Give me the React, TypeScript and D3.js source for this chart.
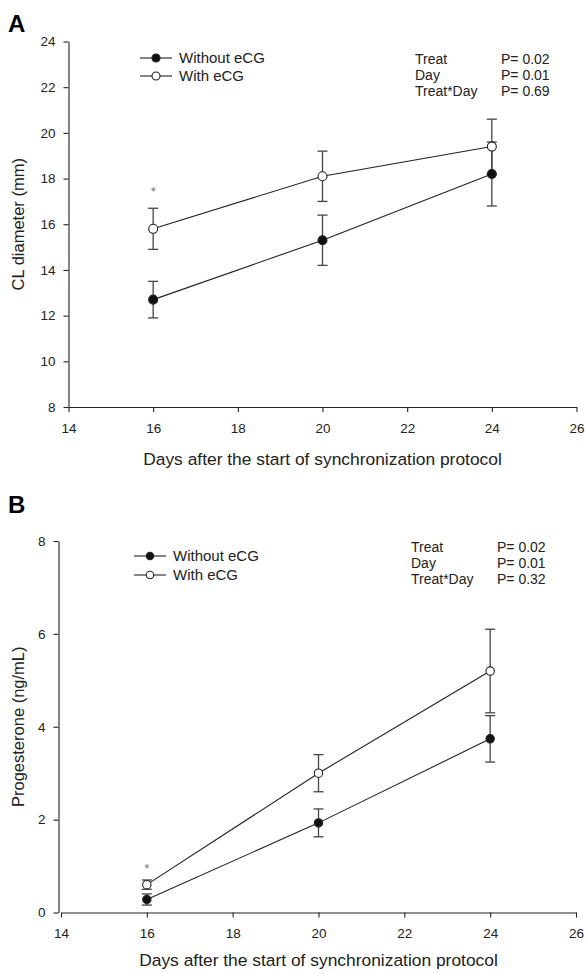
import { useEffect, useRef } from 'react';
import * as d3 from 'd3';

const days = [16, 20, 24];
const xTicks = [14, 16, 18, 20, 22, 24, 26];
const seriesNames = ['Without eCG', 'With eCG'];
const statLabels = ['Treat', 'Day', 'Treat*Day'];

// panel A - CL diameter (mm)
const clWithout = [12.7, 15.3, 18.2];
const clWithoutSe = [0.8, 1.1, 1.4];
const clWith = [15.8, 18.1, 19.4];
const clWithSe = [0.9, 1.1, 1.2];
const clTicks = [8, 10, 12, 14, 16, 18, 20, 22, 24];
const clStats = ['P= 0.02', 'P= 0.01', 'P= 0.69'];

// panel B - progesterone (ng/mL)
const p4Without = [0.28, 1.93, 3.74];
const p4WithoutSe = [0.12, 0.3, 0.5];
const p4With = [0.6, 3.0, 5.2];
const p4WithSe = [0.1, 0.4, 0.9];
const p4Ticks = [0, 2, 4, 6, 8];
const p4Stats = ['P= 0.02', 'P= 0.01', 'P= 0.32'];

const FONT = '"Liberation Sans", Arial, Helvetica, sans-serif';

type Panel = {
  letter: string;
  letterY: number;
  yAxisX: number;
  x0: number;
  x1: number;
  yTop: number;
  yBottom: number;
  yTicks: number[];
  yTitle: string;
  xTitleY: number;
  without: number[];
  withoutSe: number[];
  withv: number[];
  withSe: number[];
  stats: string[];
  legendX: number;
  legendY: number;
  legendGap: number;
  statsY: number;
  statsX: number;
  r: number;
  starGap: number;
};

function drawPanel(root: d3.Selection<SVGSVGElement, unknown, null, undefined>, p: Panel) {
  const g = root.append('g');
  const x = d3.scaleLinear().domain([14, 26]).range([p.x0, p.x1]);
  const y = d3
    .scaleLinear()
    .domain([p.yTicks[0], p.yTicks[p.yTicks.length - 1]])
    .range([p.yBottom, p.yTop]);

  // panel letter
  g.append('text')
    .attr('x', 8)
    .attr('y', p.letterY)
    .attr('font-family', FONT)
    .attr('font-weight', 'bold')
    .attr('font-size', 24)
    .text(p.letter);

  // axes
  const xAxis = g
    .append('g')
    .attr('transform', `translate(0,${p.yBottom})`)
    .call(d3.axisBottom(x).tickValues(xTicks).tickSize(5).tickPadding(11).tickSizeOuter(0));
  const yAxis = g
    .append('g')
    .attr('transform', `translate(${p.yAxisX},0)`)
    .call(d3.axisLeft(y).tickValues(p.yTicks).tickSize(5).tickPadding(8).tickSizeOuter(0));
  [xAxis, yAxis].forEach(a => {
    a.selectAll('path, line').attr('stroke', '#222').attr('stroke-width', 1.1);
    a.selectAll('text').attr('font-family', FONT).attr('font-size', 13.5).attr('fill', '#222');
  });

  // axis titles
  g.append('text')
    .attr('x', (p.x0 + p.x1) / 2)
    .attr('y', p.xTitleY)
    .attr('text-anchor', 'middle')
    .attr('font-family', FONT)
    .attr('font-size', 17.4)
    .attr('fill', '#222')
    .text('Days after the start of synchronization protocol');
  g.append('text')
    .attr('transform', `translate(24,${(p.yTop + p.yBottom) / 2}) rotate(-90)`)
    .attr('text-anchor', 'middle')
    .attr('font-family', FONT)
    .attr('font-size', 16.5)
    .attr('fill', '#222')
    .text(p.yTitle);

  const series = [
    { vals: p.without, se: p.withoutSe, fill: '#111' },
    { vals: p.withv, se: p.withSe, fill: '#fff' },
  ];

  const line = d3
    .line<number>()
    .x((d, i) => x(days[i]))
    .y(d => y(d));

  series.forEach(s => {
    g.append('path')
      .datum(s.vals)
      .attr('d', line)
      .attr('fill', 'none')
      .attr('stroke', '#222')
      .attr('stroke-width', 1.1);
  });

  // error bars
  series.forEach(s => {
    const eb = g
      .selectAll(null)
      .data(s.vals.map((v, i) => ({ day: days[i], lo: v - s.se[i], hi: v + s.se[i] })))
      .enter()
      .append('g')
      .attr('stroke', '#444')
      .attr('stroke-width', 1.3);
    eb.append('line')
      .attr('x1', d => x(d.day))
      .attr('x2', d => x(d.day))
      .attr('y1', d => y(d.lo))
      .attr('y2', d => y(d.hi));
    eb.append('line')
      .attr('x1', d => x(d.day) - 5)
      .attr('x2', d => x(d.day) + 5)
      .attr('y1', d => y(d.lo))
      .attr('y2', d => y(d.lo));
    eb.append('line')
      .attr('x1', d => x(d.day) - 5)
      .attr('x2', d => x(d.day) + 5)
      .attr('y1', d => y(d.hi))
      .attr('y2', d => y(d.hi));
  });

  // markers
  series.forEach(s => {
    g.selectAll(null)
      .data(s.vals)
      .enter()
      .append('circle')
      .attr('cx', (d, i) => x(days[i]))
      .attr('cy', d => y(d))
      .attr('r', p.r)
      .attr('fill', s.fill)
      .attr('stroke', '#222')
      .attr('stroke-width', 1.1);
  });

  // significance asterisk at day 16
  const topAt16 = Math.max(p.withv[0] + p.withSe[0], p.without[0] + p.withoutSe[0]);
  g.append('text')
    .attr('x', x(days[0]))
    .attr('y', y(topAt16) - p.starGap)
    .attr('text-anchor', 'middle')
    .attr('font-family', FONT)
    .attr('font-size', 13)
    .attr('fill', '#777')
    .text('*');

  // legend
  seriesNames.forEach((name, i) => {
    const ly = p.legendY + i * p.legendGap;
    g.append('line')
      .attr('x1', p.legendX)
      .attr('x2', p.legendX + 32)
      .attr('y1', ly)
      .attr('y2', ly)
      .attr('stroke', '#222')
      .attr('stroke-width', 1.1);
    g.append('circle')
      .attr('cx', p.legendX + 16)
      .attr('cy', ly)
      .attr('r', p.r - 0.5)
      .attr('fill', series[i].fill)
      .attr('stroke', '#222')
      .attr('stroke-width', 1.1);
    g.append('text')
      .attr('x', p.legendX + 39)
      .attr('y', ly + 5)
      .attr('font-family', FONT)
      .attr('font-size', 15)
      .attr('fill', '#222')
      .text(name);
  });

  // stats
  statLabels.forEach((lab, i) => {
    const sy = p.statsY + i * 16;
    g.append('text')
      .attr('x', p.statsX)
      .attr('y', sy)
      .attr('font-family', FONT)
      .attr('font-size', 14)
      .attr('fill', '#222')
      .text(lab);
    g.append('text')
      .attr('x', p.statsX + 86)
      .attr('y', sy)
      .attr('font-family', FONT)
      .attr('font-size', 14)
      .attr('fill', '#222')
      .text(p.stats[i]);
  });
}

export default function App() {
  const svgRef = useRef<SVGSVGElement>(null);

  useEffect(() => {
    if (!svgRef.current) return;
    const svg = d3.select(svgRef.current);
    svg.selectAll('*').remove();

    drawPanel(svg, {
      letter: 'A',
      letterY: 32,
      yAxisX: 68.5,
      x0: 68.5,
      x1: 576.5,
      yTop: 41.5,
      yBottom: 407,
      yTicks: clTicks,
      yTitle: 'CL diameter (mm)',
      xTitleY: 465,
      without: clWithout,
      withoutSe: clWithoutSe,
      withv: clWith,
      withSe: clWithSe,
      stats: clStats,
      legendX: 140,
      legendY: 58,
      legendGap: 18,
      statsY: 64,
      statsX: 415,
      r: 4.5,
      starGap: 12,
    });

    drawPanel(svg, {
      letter: 'B',
      letterY: 513,
      yAxisX: 58.5,
      x0: 61,
      x1: 576,
      yTop: 541,
      yBottom: 912.5,
      yTicks: p4Ticks,
      yTitle: 'Progesterone (ng/mL)',
      xTitleY: 966,
      without: p4Without,
      withoutSe: p4WithoutSe,
      withv: p4With,
      withSe: p4WithSe,
      stats: p4Stats,
      legendX: 134,
      legendY: 556,
      legendGap: 19,
      statsY: 552,
      statsX: 411,
      r: 4.2,
      starGap: 7,
    });
  }, []);

  return (
    <svg
      ref={svgRef}
      width={585}
      height={973}
      style={{ position: 'absolute', left: 0, top: 0, background: '#fff' }}
    ></svg>
  );
}
